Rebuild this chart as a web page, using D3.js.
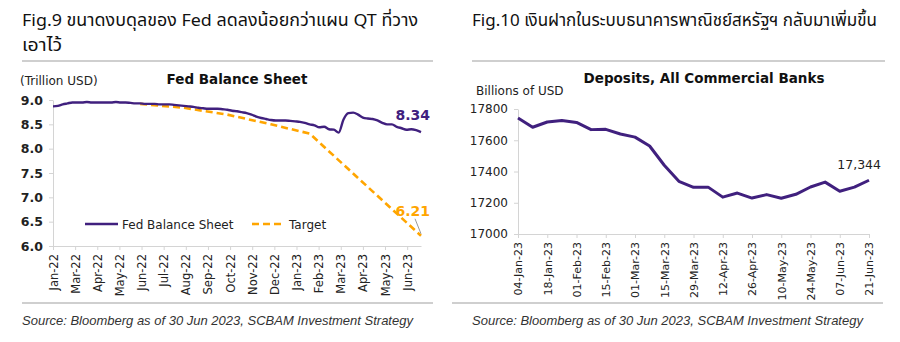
<!DOCTYPE html>
<html>
<head>
<meta charset="utf-8">
<script src="https://cdn.jsdelivr.net/npm/d3@7"></script>
<style>
  body { margin: 0; background: #fff; }
  svg text { font-family: Tahoma, "DejaVu Sans", sans-serif; fill: #222; }
  .head { font-family: "Noto Sans Thai", "Noto Sans", sans-serif; font-size: 17px; fill: #111; }
  .src { font-family: "Liberation Sans", Arial, sans-serif; font-style: italic; font-size: 13px; fill: #333; }
  .title { font-weight: bold; font-size: 13.5px; fill: #111; }
  .axis path, .axis line { stroke: #d4d4d4; }
  .axis text { font-size: 11px; fill: #222; }
</style>
</head>
<body>
<svg id="chart" width="900" height="342"></svg>
<script>
// Fed total assets, weekly, trillion USD
var fedBalance = [
  8.87, 8.88, 8.91, 8.93, 8.95, 8.95, 8.95, 8.96, 8.95, 8.95,
  8.95, 8.95, 8.95, 8.96, 8.95, 8.95, 8.94, 8.93, 8.93, 8.92,
  8.92, 8.92, 8.91, 8.91, 8.91, 8.90, 8.89, 8.88, 8.87, 8.86,
  8.84, 8.83, 8.82, 8.82, 8.82, 8.81, 8.80, 8.78, 8.77, 8.75,
  8.73, 8.70, 8.66, 8.63, 8.61, 8.59, 8.58, 8.58, 8.58, 8.57,
  8.56, 8.55, 8.53, 8.50, 8.48, 8.44, 8.45, 8.40, 8.39, 8.33,
  8.60, 8.73, 8.74, 8.70, 8.64, 8.62, 8.61, 8.58, 8.53, 8.50,
  8.50, 8.45, 8.42, 8.39, 8.40, 8.38, 8.34
];
// QT runoff path (week number -> trillion USD)
var targetWeeks = [18, 27, 36, 45, 53, 76];
var targetValues = [8.92, 8.84, 8.70, 8.50, 8.31, 6.21];
var fedTickLabels = ['Jan-22', 'Mar-22', 'Apr-22', 'May-22', 'Jun-22', 'Jul-22', 'Aug-22',
  'Sep-22', 'Oct-22', 'Nov-22', 'Dec-22', 'Jan-23', 'Feb-23', 'Mar-23', 'Apr-23', 'May-23', 'Jun-23'];
var fedTickDays = 32;
var fedTicks = [6.0, 6.5, 7.0, 7.5, 8.0, 8.5, 9.0];

// Deposits at all commercial banks, weekly, billions USD
var depositLabels = ['04-Jan-23', '18-Jan-23', '01-Feb-23', '15-Feb-23', '01-Mar-23', '15-Mar-23',
  '29-Mar-23', '12-Apr-23', '26-Apr-23', '10-May-23', '24-May-23', '07-Jun-23', '21-Jun-23'];
var deposits = [
  17742, 17683, 17717, 17727, 17714, 17668, 17670, 17640, 17620, 17563,
  17440, 17337, 17299, 17300, 17236, 17262, 17230, 17252, 17229, 17254,
  17301, 17332, 17274, 17300, 17344
];
var depositTicks = [17000, 17200, 17400, 17600, 17800];

var purple = '#40207e';
var orange = '#ffa500';

var svg = d3.select('#chart');

function rotateLabels(axisG) {
  axisG.selectAll('.tick text')
    .attr('transform', 'rotate(-90)')
    .attr('x', -8)
    .attr('y', 0)
    .attr('dy', '0.35em')
    .style('text-anchor', 'end');
}

// lines: [text, width] pairs, squeezed to the column width
function header(x, lines, ruleX2) {
  lines.forEach(function(t, i) {
    svg.append('text').attr('class', 'head')
      .attr('x', x).attr('y', 26 + i * 25)
      .attr('textLength', t[1]).attr('lengthAdjust', 'spacingAndGlyphs')
      .text(t[0]);
  });
  svg.append('line').attr('x1', x).attr('x2', ruleX2)
    .attr('y1', 61).attr('y2', 61)
    .attr('stroke', '#a0a0a0').attr('stroke-width', 1.2);
}

function footer(x1, x2, tx) {
  svg.append('line').attr('x1', x1).attr('x2', x2)
    .attr('y1', 303).attr('y2', 303)
    .attr('stroke', '#a0a0a0').attr('stroke-width', 1.2);
  svg.append('text').attr('class', 'src')
    .attr('x', tx).attr('y', 325)
    .text('Source: Bloomberg as of 30 Jun 2023, SCBAM Investment Strategy');
}

// ---- left panel: Fed balance sheet ----
function drawFed() {
  header(22, [['Fig.9 ขนาดงบดุลของ Fed ลดลงน้อยกว่าแผน QT ที่วาง', 396], ['เอาไว้', 40]], 433);

  var lastDay = (fedBalance.length - 1) * 7;
  var x = d3.scaleLinear().domain([0, lastDay]).range([53, 421]);
  var y = d3.scaleLinear().domain([6, 9]).range([246, 100]);

  svg.append('g').attr('class', 'axis')
    .attr('transform', 'translate(53,0)')
    .call(d3.axisLeft(y).tickValues(fedTicks).tickFormat(d3.format('.1f'))
      .tickSize(4).tickSizeOuter(0).tickPadding(6))
    .selectAll('text').style('font-size', '12.5px').style('font-weight', '600');

  var xa = svg.append('g').attr('class', 'axis')
    .attr('transform', 'translate(0,246)')
    .call(d3.axisBottom(x)
      .tickValues(fedTickLabels.map(function(d, i) { return i * fedTickDays; }))
      .tickFormat(function(d, i) { return fedTickLabels[i]; })
      .tickSize(4).tickSizeOuter(0));
  rotateLabels(xa);
  xa.selectAll('.tick text').style('font-size', '11.5px');

  var line = d3.line()
    .x(function(d) { return x(d[0] * 7); })
    .y(function(d) { return y(d[1]); })
    .curve(d3.curveMonotoneX);

  svg.append('path')
    .datum(targetWeeks.map(function(w, i) { return [w, targetValues[i]]; }))
    .attr('d', d3.line()
      .x(function(d) { return x(d[0] * 7); })
      .y(function(d) { return y(d[1]); }))
    .attr('fill', 'none').attr('stroke', orange)
    .attr('stroke-width', 2.6).attr('stroke-dasharray', '7,4');

  svg.append('path')
    .datum(fedBalance.map(function(v, i) { return [i, v]; }))
    .attr('d', line)
    .attr('fill', 'none').attr('stroke', purple).attr('stroke-width', 2.4);

  var lastFed = fedBalance[fedBalance.length - 1];
  var lastTarget = targetValues[targetValues.length - 1];
  var lastX = x(lastDay);

  svg.append('text').attr('x', lastX + 9).attr('y', y(lastFed) - 12)
    .attr('text-anchor', 'end')
    .style('font-weight', 'bold').style('font-size', '14px').style('fill', purple)
    .text(d3.format('.2f')(lastFed));

  svg.append('line')
    .attr('x1', lastX - 6).attr('y1', y(lastTarget) - 17)
    .attr('x2', lastX).attr('y2', y(lastTarget) - 2)
    .attr('stroke', '#999').attr('stroke-width', 1);
  svg.append('text').attr('x', lastX + 9).attr('y', y(lastTarget) - 20)
    .attr('text-anchor', 'end')
    .style('font-weight', 'bold').style('font-size', '14px').style('fill', orange)
    .text(d3.format('.2f')(lastTarget));

  svg.append('text').attr('class', 'title')
    .attr('x', 237).attr('y', 84).attr('text-anchor', 'middle')
    .text('Fed Balance Sheet');
  svg.append('text').attr('x', 20).attr('y', 85)
    .style('font-size', '12px').text('(Trillion USD)');

  // legend
  var lg = svg.append('g').attr('transform', 'translate(0,224)');
  lg.append('line').attr('x1', 85).attr('x2', 118)
    .attr('stroke', purple).attr('stroke-width', 2.4);
  lg.append('text').attr('x', 122).attr('y', 4.5).style('font-size', '12px')
    .text('Fed Balance Sheet');
  lg.append('line').attr('x1', 252).attr('x2', 285)
    .attr('stroke', orange).attr('stroke-width', 2.6).attr('stroke-dasharray', '7,4');
  lg.append('text').attr('x', 289).attr('y', 4.5).style('font-size', '12px')
    .text('Target');

  footer(22, 433, 22);
}

// ---- right panel: commercial bank deposits ----
function drawDeposits() {
  header(472, [['Fig.10 เงินฝากในระบบธนาคารพาณิชย์สหรัฐฯ กลับมาเพิ่มขึ้น', 405]], 885);

  var x = d3.scaleLinear().domain([0, deposits.length - 1]).range([518, 869]);
  var y = d3.scaleLinear().domain([17000, 17800]).range([234, 109]);

  svg.append('g').attr('class', 'axis')
    .attr('transform', 'translate(518,0)')
    .call(d3.axisLeft(y).tickValues(depositTicks).tickFormat(d3.format('d'))
      .tickSize(4).tickSizeOuter(0).tickPadding(6))
    .selectAll('text').style('font-size', '12px');

  var xa = svg.append('g').attr('class', 'axis')
    .attr('transform', 'translate(0,234)')
    .call(d3.axisBottom(x)
      .tickValues(depositLabels.map(function(d, i) { return i * 2; }))
      .tickFormat(function(d, i) { return depositLabels[i]; })
      .tickSize(4).tickSizeOuter(0));
  rotateLabels(xa);

  svg.append('path')
    .datum(deposits)
    .attr('d', d3.line()
      .x(function(d, i) { return x(i); })
      .y(function(d) { return y(d); }))
    .attr('fill', 'none').attr('stroke', purple).attr('stroke-width', 3)
    .attr('stroke-linejoin', 'round');

  var last = deposits[deposits.length - 1];
  svg.append('text').attr('x', x(deposits.length - 1) + 12).attr('y', y(last) - 11)
    .attr('text-anchor', 'end').style('font-size', '12.5px')
    .text(d3.format(',')(last));

  svg.append('text').attr('class', 'title')
    .attr('x', 704).attr('y', 83).attr('text-anchor', 'middle')
    .text('Deposits, All Commercial Banks');
  svg.append('text').attr('x', 476).attr('y', 95)
    .style('font-size', '12px').text('Billions of USD');

  footer(452, 883, 472);
}

drawFed();
drawDeposits();
</script>
</body>
</html>
